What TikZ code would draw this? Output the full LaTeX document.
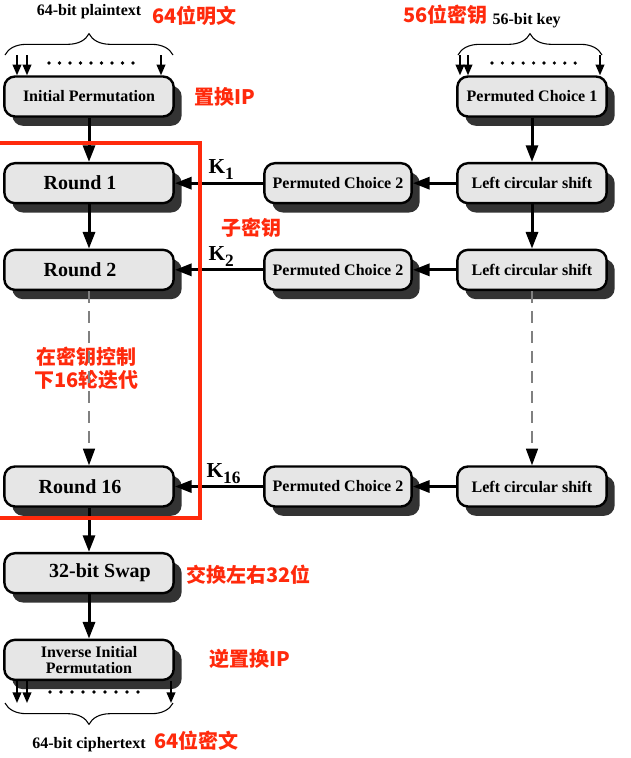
\documentclass[tikz,border=0pt]{standalone}
\usepackage{fontspec}
\setmainfont{Liberation Serif}
\newfontfamily\cjk{Noto Sans CJK SC}
\usepackage{tikz}
\usetikzlibrary{arrows.meta}
\usetikzlibrary{positioning}
\usetikzlibrary{shadows}
\usetikzlibrary{decorations.pathreplacing}
\usepackage{xcolor}
\definecolor{noteRed}{RGB}{255,42,12}
\definecolor{boxGray}{RGB}{230,230,230}
\newcommand{\subkey}[1]{K\raisebox{-4.5pt}{\fontsize{13}{13}\selectfont #1}}

\begin{document}
\begin{tikzpicture}[x=0.75pt, y=-0.75pt, ->, >={Triangle[length=12.5pt, width=9pt]}, line width=2.25pt, node distance=65pt]
\tikzstyle{stage} = [draw=black, line width=1.8pt, fill=boxGray, rounded corners=8pt, inner sep=0pt, minimum height=30pt, text=black, font=\bfseries\fontsize{12}{12}\selectfont, drop shadow={shadow xshift=6pt, shadow yshift=-7pt, fill=black!80, opacity=1}]
\tikzstyle{leftbox} = [stage, minimum width=127pt]
\tikzstyle{roundbox} = [leftbox, font=\bfseries\fontsize{15}{15}\selectfont]
\tikzstyle{choicebox} = [stage, minimum width=110.5pt]
\tikzstyle{shiftbox} = [stage, minimum width=112pt]
\tikzstyle{bitlabel} = [inner sep=0pt, font=\bfseries\fontsize{12}{12}\selectfont]
\tikzstyle{keylabel} = [inner sep=0pt, anchor=base west, font=\bfseries\fontsize{16}{16}\selectfont]
\tikzstyle{redlabel} = [inner sep=0pt, text=noteRed, align=center, font=\cjk\bfseries\fontsize{15}{17.25}\selectfont]
\tikzstyle{bitin} = [line width=1.3pt, -{Triangle[length=8pt, width=6.5pt]}]
\tikzstyle{bitbrace} = [-, line width=0.8pt, decorate, decoration={brace, amplitude=16pt}]
\tikzstyle{skipline} = [draw=gray, line width=1.1pt, dash pattern=on 9pt off 6pt, -{Triangle[length=12.5pt, width=9pt, color=black]}]
\tikzstyle{redframe} = [-, draw=noteRed, line width=3pt]

\useasboundingbox (0,0) rectangle (631,758);

\node[leftbox] (IP) at (89,96.5) {Initial Permutation};
\node[roundbox] (R1)[below of=IP] {Round 1\hspace*{13.5pt}};
\node[roundbox] (R2)[below of=R1] {Round 2\hspace*{13.5pt}};
\node[roundbox] (R16)[node distance=162.5pt, below of=R2] {Round 16\hspace*{13.5pt}};
\node[roundbox] (SW)[below of=R16] {\hspace*{16.5pt}32-bit Swap};
\node[leftbox, align=center] (IIP)[below of=SW] {Inverse Initial\\Permutation};

\node[shiftbox] (PC1)[node distance=332.25pt, right of=IP] {Permuted Choice 1};
\node[shiftbox] (LS1)[below of=PC1] {Left circular shift};
\node[shiftbox] (LS2)[below of=LS1] {Left circular shift};
\node[shiftbox] (LS16)[node distance=162.5pt, below of=LS2] {Left circular shift};
\node[choicebox] (PC21)[node distance=186.75pt, right of=R1] {Permuted Choice 2};
\node[choicebox] (PC22)[node distance=186.75pt, right of=R2] {Permuted Choice 2};
\node[choicebox] (PC216)[node distance=186.75pt, right of=R16] {Permuted Choice 2};

\node[bitlabel] (PT)[node distance=64pt, above of=IP] {64-bit plaintext};
\node[bitlabel] (KEY)[node distance=56.5pt, above of=PC1, xshift=-4pt] {56-bit key};
\node[bitlabel] (CT)[node distance=63.75pt, below of=IIP] {64-bit ciphertext};

\draw (R1) node[keylabel, xshift=88.5pt, yshift=7pt] {\subkey{1}};
\draw (R2) node[keylabel, xshift=88.5pt, yshift=7pt] {\subkey{2}};
\draw (R16) node[keylabel, xshift=87pt, yshift=7pt] {\subkey{16}};

\draw (PT) node[redlabel, anchor=west, xshift=46.5pt, yshift=-3.6pt] {64位明文};
\draw (KEY) node[redlabel, anchor=west, xshift=-93.5pt, yshift=4.6pt] {56位密钥};
\draw (IP) node[redlabel, anchor=west, xshift=78pt] {置换IP};
\draw (PC21) node[redlabel, anchor=west, xshift=-88.5pt, yshift=-33.6pt] {子密钥};
\draw (R2) node[redlabel, xshift=-1.9pt, yshift=-74pt] {在密钥控制\\下16轮迭代};
\draw (SW) node[redlabel, anchor=west, xshift=72pt, yshift=-1.4pt] {交换左右32位};
\draw (IIP) node[redlabel, anchor=west, xshift=89.25pt, yshift=0.6pt] {逆置换IP};
\draw (CT) node[redlabel, anchor=west, xshift=48pt, yshift=3.2pt] {64位密文};

% bits in and out
\draw[bitbrace] (5,55) -- (173,55);
\draw[bitbrace] (458,55) -- (602,55);
\draw[bitbrace] (173,703) -- (5,703);
\foreach \bx in {17,27,161} \draw[bitin] (\bx,55) -- (\bx,55 |- IP.north);
\foreach \bx in {460,468,600} \draw[bitin] (\bx,55) -- (\bx,55 |- PC1.north);
\foreach \bx in {17,27,171} \draw[bitin] (\bx,703 |- IIP.south) -- (\bx,703);
\foreach \i in {0,...,8} {
	\fill (49+10.5*\i,63) circle (1.35pt);
	\fill (492+10.4*\i,63) circle (1.35pt);
	\fill (50+11*\i,692) circle (1.35pt);
}

\path (IP) edge (R1)
	(R1) edge (R2)
	(R2) edge[skipline] (R16)
	(R16) edge (SW)
	(SW) edge (IIP)
	(PC1) edge (LS1)
	(LS1) edge (LS2)
		edge (PC21)
	(LS2) edge[skipline] (LS16)
		edge (PC22)
	(LS16) edge (PC216)
	(PC21) edge (R1)
	(PC22) edge (R2)
	(PC216) edge (R16)
	;

\draw[redframe] (-4,143) -- (200,143) -- (200,518) -- (-4,518);

\end{tikzpicture}
\end{document}
